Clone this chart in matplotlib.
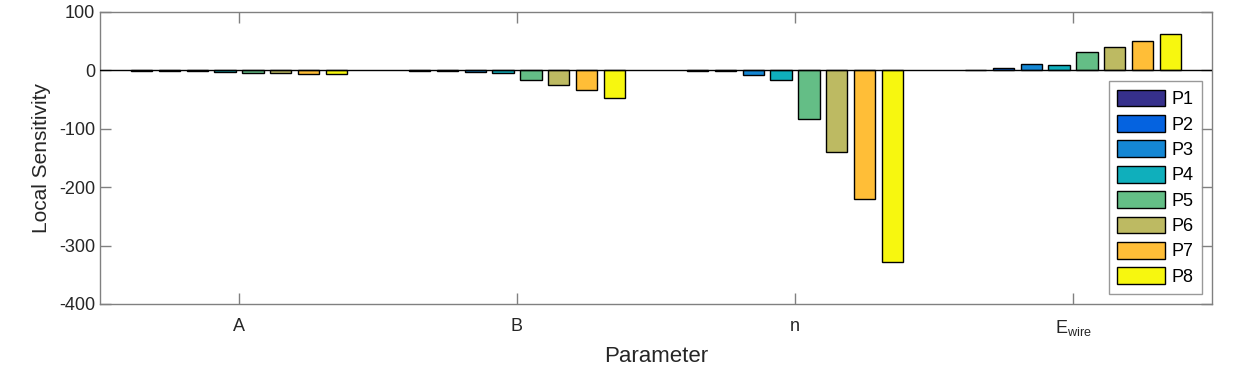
import numpy as np
import matplotlib.pyplot as plt

plt.rcParams.update({
    "font.family": "sans-serif",
    "font.sans-serif": ["Liberation Sans", "Arial", "DejaVu Sans"],
    "mathtext.fontset": "custom",
    "mathtext.rm": "Liberation Sans",
    "mathtext.it": "Liberation Sans:italic",
    "axes.unicode_minus": False,
    "axes.linewidth": 1.0,
})

# data
params = ["A", "B", "n", r"E$_{\mathrm{wire}}$"]
series = ["P1", "P2", "P3", "P4", "P5", "P6", "P7", "P8"]
sens_A = [-0.5, -1, -1.5, -2, -4, -5, -6, -7]
sens_B = [-0.5, -1, -3.5, -5, -17, -25, -34, -47]
sens_n = [-0.5, -0.5, -7.5, -17, -83, -140, -220, -328]
sens_E = [1.5, 4, 11, 10, 31, 40, 50, 62]

colors = ["#36308c", "#0563e0", "#1487d4", "#0fafbc",
          "#64be86", "#bdba62", "#ffbe37", "#f7f70f"]

values = np.array([sens_A, sens_B, sens_n, sens_E])  # (param, series)

fig = plt.figure(figsize=(12.36, 3.92), dpi=100)
ax = fig.add_axes([100 / 1236, 1 - 304 / 392, 1112 / 1236, 292 / 392])

x = np.arange(1, len(params) + 1)
pitch = 0.1
width = 0.077
for i, name in enumerate(series):
    off = (i - (len(series) - 1) / 2) * pitch
    ax.bar(x + off, values[:, i], width, color=colors[i],
           edgecolor="black", linewidth=1.0, label=name, zorder=2)

ax.axhline(0, color="black", linewidth=1.0, zorder=3)

ax.set_xlim(0.5, 4.5)
ax.set_ylim(-400, 100)
ax.set_xticks(x)
ax.set_xticklabels(params)
ax.set_yticks(np.arange(-400, 101, 100))

grey = "#808080"
for s in ax.spines.values():
    s.set_color(grey)
ax.tick_params(direction="in", length=8, width=1.0, color=grey,
               labelsize=13, labelcolor="#262626", top=True, right=True)
ax.tick_params(axis="x", pad=10)

ax.set_xlabel("Parameter", fontsize=16, color="#262626", labelpad=6)
ax.set_ylabel("Local Sensitivity", fontsize=15, color="#262626", labelpad=6)

leg = ax.legend(loc="lower right", bbox_to_anchor=(1202 / 1236, 1 - 294 / 392),
                bbox_transform=fig.transFigure, fontsize=13, frameon=True,
                fancybox=False, edgecolor=grey, handlelength=2.7,
                handleheight=1.05, handletextpad=0.35, labelspacing=0.38,
                borderpad=0.45, borderaxespad=0)
leg.get_frame().set_linewidth(1.0)
leg.set_zorder(5)

fig.savefig("out.png", dpi=100)
